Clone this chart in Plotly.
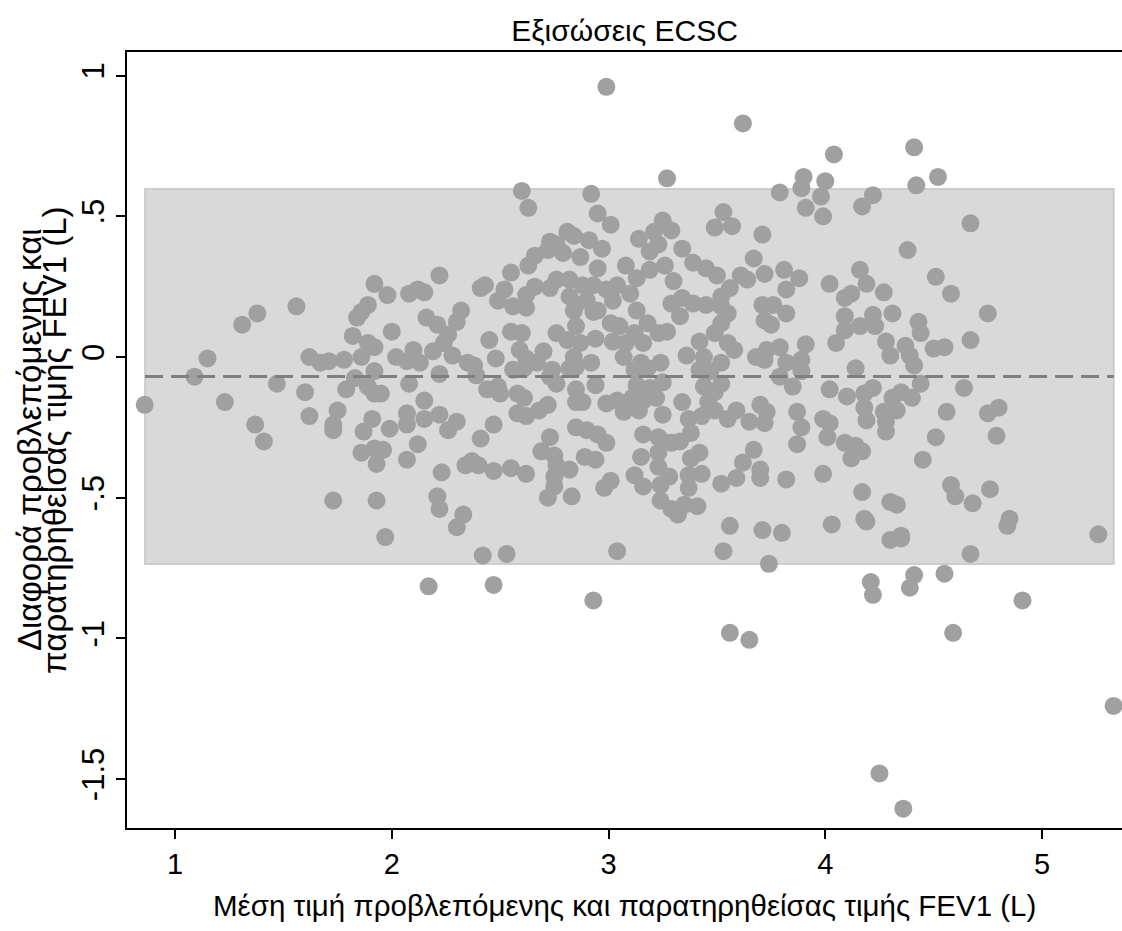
import plotly.graph_objects as go

# ---- data ----
# upper half of the cloud (difference >= ~0)
upper_mean = [1.92,1.89,1.86,1.84,1.82,1.56,1.38,1.31,1.15,1.62,1.67,1.71,1.78,1.86,1.89,1.92,1.09,
    2.60,2.63,2.92,2.95,3.01,2.81,2.84,2.73,2.76,2.79,2.72,2.91,2.97,2.87,2.66,2.63,2.95,2.55,2.22,3.08,
    1.98,2.08,2.12,2.15,2.41,2.43,2.52,2.49,2.56,2.62,2.66,2.62,2.73,2.76,2.82,2.82,2.88,2.93,2.90,2.95,
    2.99,3.04,3.02,2.85,2.84,2.93,3.01,3.02,3.05,2.94,2.85,2.87,2.81,2.76,2.32,2.30,2.16,2.21,2.26,2.24,
    2.19,2.28,2.00,2.10,2.02,2.07,2.13,2.45,2.48,2.55,2.60,2.59,2.62,2.70,2.67,2.35,2.38,2.84,2.92,2.85,
    3.07,3.08]
upper_diff = [0.26,0.185,0.16,0.14,0.075,0.18,0.155,0.115,-0.005,0.0,-0.02,-0.015,-0.01,0.0,0.05,0.035,-0.07,
    0.59,0.53,0.58,0.51,0.47,0.445,0.43,0.41,0.40,0.37,0.38,0.415,0.385,0.355,0.36,0.325,0.315,0.30,0.29,0.325,
    0.22,0.225,0.24,0.23,0.245,0.255,0.24,0.20,0.18,0.175,0.25,0.22,0.245,0.275,0.275,0.215,0.255,0.255,0.20,0.165,
    0.24,0.255,0.20,0.185,0.165,0.16,0.12,0.055,0.11,0.065,0.11,0.05,0.06,0.085,0.165,0.125,0.14,0.115,0.08,0.05,
    0.02,0.005,0.09,0.025,0.0,-0.015,-0.02,0.06,-0.005,0.09,0.085,0.025,-0.005,0.02,-0.02,-0.02,-0.03,0.0,-0.02,-0.035,
    0.0,0.05]

upper_mean_b = [3.27,3.79,3.90,3.89,4.00,3.98,3.91,3.99,4.22,4.17,3.53,3.49,3.57,3.71,3.25,3.21,3.29,3.14,
    3.23,3.19,3.34,3.39,3.67,3.72,3.45,3.50,3.61,3.64,3.13,3.19,3.26,3.30,3.81,3.88,3.82,4.02,4.16,4.19,4.09,
    4.12,3.56,3.52,3.52,3.29,3.34,3.39,3.45,3.33,3.71,3.76,3.82,3.72,3.75,3.10,3.13,3.18,3.12,3.16,3.23,3.27,
    3.52,3.55,3.49,3.55,3.58,3.42,3.36,3.44,3.52,3.68,3.73,3.79,3.72,3.82,3.89,3.91,4.09,4.09,4.16,4.05,4.22,
    4.23,4.14,3.24,3.15,4.52,4.42,4.67,4.38,4.51,4.58,4.27,4.75,4.31,4.43,4.44,4.67,4.28,4.30,4.37,4.39,4.41,
    4.50,4.55]
upper_diff_b = [0.635,0.585,0.64,0.60,0.625,0.57,0.53,0.50,0.575,0.535,0.515,0.46,0.465,0.435,0.485,0.445,0.45,0.42,
    0.40,0.375,0.385,0.335,0.35,0.295,0.315,0.29,0.29,0.275,0.28,0.31,0.325,0.27,0.31,0.28,0.24,0.26,0.31,0.26,0.21,
    0.225,0.245,0.215,0.18,0.19,0.21,0.19,0.185,0.145,0.185,0.185,0.155,0.13,0.115,0.225,0.165,0.12,0.085,0.05,0.085,0.09,
    0.12,0.155,0.085,0.05,0.025,0.055,0.005,0.0,-0.02,0.0,0.025,0.035,-0.01,-0.02,-0.01,0.045,0.145,0.095,0.11,0.05,0.15,
    0.11,-0.04,-0.02,-0.02,0.64,0.61,0.475,0.38,0.285,0.225,0.23,0.155,0.155,0.125,0.085,0.06,0.055,0.005,0.04,0.005,-0.03,
    0.03,0.035]

# lower half of the cloud
lower_mean = [0.86,1.23,1.37,1.41,1.47,1.60,1.62,1.75,1.73,1.73,1.73,1.79,1.83,1.89,1.92,1.91,1.87,1.86,1.92,
    1.93,1.93,1.92,2.08,1.95,2.15,2.15,2.07,2.07,1.99,2.22,2.26,2.30,2.12,2.07,1.96,1.97,2.23,2.21,2.22,2.33,
    2.30,2.42,2.53,2.47,2.41,2.34,2.37,2.40,2.47,2.55,2.62,2.44,2.50,2.49,2.58,2.61,2.58,2.62,2.68,2.72,2.39,
    2.22,2.56,2.61,2.74,2.76,2.73,2.82,2.85,2.85,2.88,2.94,2.99,3.04,3.07,2.85,2.90,2.95,2.99,2.73,2.69,2.75,
    2.76,2.75,2.82,2.75,2.72,2.89,2.94,2.83,2.98,3.01,3.04]
lower_diff = [-0.17,-0.16,-0.24,-0.30,-0.095,-0.125,-0.21,-0.19,-0.24,-0.26,-0.51,-0.115,-0.075,-0.105,-0.13,-0.22,-0.265,-0.34,-0.325,
    -0.38,-0.51,-0.05,-0.095,-0.13,-0.155,-0.22,-0.20,-0.24,-0.255,-0.205,-0.26,-0.23,-0.31,-0.365,-0.33,-0.64,-0.41,-0.495,-0.54,-0.56,
    -0.605,-0.705,-0.70,-0.24,-0.29,-0.385,-0.37,-0.385,-0.405,-0.395,-0.415,-0.115,-0.13,-0.105,-0.13,-0.145,-0.20,-0.21,-0.19,-0.17,-0.065,
    -0.06,-0.045,-0.04,-0.045,-0.095,-0.07,-0.04,-0.115,-0.16,-0.16,-0.10,-0.165,-0.155,-0.195,-0.25,-0.26,-0.275,-0.305,-0.285,-0.335,-0.35,
    -0.385,-0.425,-0.40,-0.46,-0.50,-0.355,-0.365,-0.495,-0.465,-0.44,-0.69]

lower_mean_b = [3.12,3.18,3.25,3.13,3.19,3.11,3.16,3.22,3.14,3.25,3.42,3.47,3.44,3.49,3.52,3.46,3.49,3.43,
    3.34,3.37,3.38,3.33,3.29,3.16,3.15,3.12,3.16,3.23,3.25,3.23,3.23,3.28,3.24,3.24,3.29,3.32,3.35,3.41,3.38,
    3.42,3.37,3.43,3.37,3.55,3.59,3.65,3.70,3.73,3.72,3.67,3.62,3.59,3.52,3.70,3.70,3.82,3.56,3.53,3.71,3.80,
    3.74,3.79,3.85,3.89,3.87,3.89,3.87,4.02,4.10,4.18,4.22,3.99,4.02,4.01,4.18,4.19,4.09,4.14,4.17,4.12,3.99,
    4.17,4.03,4.18,4.19,4.31,4.35,4.40,4.44,4.27,4.33,4.28,4.28,4.64,4.56,4.75,4.80,4.79,4.51,4.45,4.58,4.60,
    4.76,4.68,4.30,4.33,4.30,4.35,4.35,4.85,4.84,4.67,5.26,4.41,4.55]
lower_diff_b = [-0.045,-0.04,-0.09,-0.10,-0.11,-0.145,-0.155,-0.145,-0.19,-0.205,-0.045,-0.05,-0.105,-0.125,-0.095,-0.16,-0.19,-0.21,
    -0.16,-0.22,-0.27,-0.30,-0.305,-0.275,-0.355,-0.42,-0.46,-0.285,-0.30,-0.34,-0.39,-0.425,-0.455,-0.51,-0.54,-0.56,-0.525,-0.53,-0.36,
    -0.34,-0.42,-0.415,-0.465,-0.22,-0.19,-0.23,-0.17,-0.195,-0.235,-0.33,-0.375,-0.43,-0.45,-0.40,-0.43,-0.435,-0.60,-0.69,-0.615,-0.625,
    -0.735,-0.07,-0.105,-0.05,-0.195,-0.25,-0.31,-0.115,-0.14,-0.13,-0.11,-0.22,-0.235,-0.285,-0.18,-0.225,-0.305,-0.315,-0.335,-0.36,-0.415,
    -0.48,-0.595,-0.575,-0.585,-0.145,-0.125,-0.145,-0.095,-0.195,-0.19,-0.23,-0.265,-0.11,-0.195,-0.20,-0.18,-0.28,-0.285,-0.365,-0.455,-0.495,
    -0.47,-0.52,-0.515,-0.525,-0.65,-0.635,-0.645,-0.575,-0.60,-0.70,-0.63,-0.775,-0.77]

# points outside the limits of agreement
outer_mean = [2.99,3.62,4.04,4.41,2.17,2.47,2.93,4.21,4.22,4.39,4.91,3.56,3.65,4.59,5.33,4.25,4.36]
outer_diff = [0.96,0.83,0.72,0.745,-0.815,-0.81,-0.865,-0.80,-0.845,-0.82,-0.865,-0.98,-1.005,-0.98,-1.24,-1.48,-1.605]

# Bland-Altman summary
mean_diff = -0.0695
upper_loa = 0.597
lower_loa = -0.736
x_min_data = 0.862
x_max_data = 5.331

x_ticks = [1, 2, 3, 4, 5]
y_ticks = [1, 0.5, 0, -0.5, -1, -1.5]
y_ticktext = ["1", ".5", "0", "-.5", "-1", "-1.5"]

title_text = "Εξισώσεις ECSC"
x_title = "Μέση τιμή προβλεπόμενης και παρατηρηθείσας τιμής FEV1 (L)"
y_title_lines = ["Διαφορά προβλεπόμενης και", "παρατηρηθείσας τιμής FEV1 (L)"]

all_x = upper_mean + upper_mean_b + lower_mean + lower_mean_b + outer_mean
all_y = upper_diff + upper_diff_b + lower_diff + lower_diff_b + outer_diff

FONT = "Liberation Sans, Arial, sans-serif"

fig = go.Figure()
fig.add_shape(type="rect", xref="x", yref="y", x0=x_min_data, x1=x_max_data,
              y0=lower_loa, y1=upper_loa, fillcolor="#d9d9d9",
              line=dict(color="#cdcdcd", width=2), layer="below")
fig.add_trace(go.Scatter(x=all_x, y=all_y, mode="markers",
                         marker=dict(color="#a0a0a0", size=18, line=dict(width=0)),
                         showlegend=False, hoverinfo="skip"))
fig.add_trace(go.Scatter(x=[x_min_data, x_max_data], y=[mean_diff, mean_diff], mode="lines",
                         line=dict(color="#7f7f7f", width=3, dash="18px,8px"),
                         showlegend=False, hoverinfo="skip"))

# plot area: x 127..1122 px, y 52..828 px
PW, PH = 995.0, 776.0
fig.add_annotation(text=x_title, xref="paper", yref="paper", x=0.5, y=(828 - 905) / PH,
                   xanchor="center", yanchor="middle", showarrow=False,
                   font=dict(family=FONT, size=29.5, color="black"))
for txt, px in zip(y_title_lines, [29, 54]):
    fig.add_annotation(text=txt, xref="paper", yref="paper", x=(px - 127) / PW, y=0.5,
                       xanchor="center", yanchor="middle", showarrow=False, textangle=-90,
                       font=dict(family=FONT, size=33, color="black"))

fig.update_layout(
    width=1122, height=931,
    margin=dict(l=127, r=0, t=52, b=103),
    paper_bgcolor="white", plot_bgcolor="white",
    font=dict(family=FONT, size=29, color="black"),
    title=dict(text=title_text, x=0.5, xanchor="center", xref="paper",
               y=1 - 30 / 931, yanchor="middle", yref="container",
               font=dict(family=FONT, size=30, color="black")),
    xaxis=dict(range=[0.7785, 5.369], tickvals=x_ticks, ticks="outside", ticklen=9,
               tickwidth=2, tickcolor="black", showline=True, linewidth=2, linecolor="black",
               mirror=True, showgrid=False, zeroline=False,
               tickfont=dict(family=FONT, size=29, color="black")),
    yaxis=dict(range=[-1.6738, 1.0839], tickvals=y_ticks, ticktext=y_ticktext, tickangle=-90,
               ticks="outside", ticklen=9, tickwidth=2, tickcolor="black",
               showline=True, linewidth=2, linecolor="black", mirror=False,
               showgrid=False, zeroline=False,
               tickfont=dict(family=FONT, size=31, color="black")),
)

fig.write_html("out.html")
